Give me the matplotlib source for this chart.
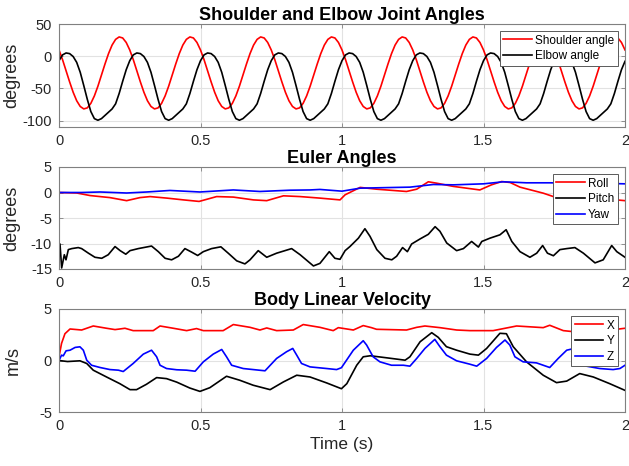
import numpy as np
import matplotlib
matplotlib.use("Agg")
import matplotlib.pyplot as plt

plt.rcParams['font.family'] = ['Liberation Sans', 'DejaVu Sans']
plt.rcParams['axes.unicode_minus'] = False

# ---------------- Top panel: joint angles (sampled every 0.0125 s) ----------------
t_joint = np.linspace(0, 2, 161)
shoulder_angle = [
    9.7, -5.4, -22.5, -39.9, -56.0, -69.2, -78.1, -81.9, -80.3, -73.3, -61.7, -46.6, -29.5, -12.1, 4.0, 17.2, 26.1, 29.9, 28.3, 21.3,
    9.7, -5.4, -22.5, -39.9, -56.0, -69.2, -78.1, -81.9, -80.3, -73.3, -61.7, -46.6, -29.5, -12.1, 4.0, 17.2, 26.1, 29.9, 28.3, 21.3,
    9.7, -5.4, -22.5, -39.9, -56.0, -69.2, -78.1, -81.9, -80.3, -73.3, -61.7, -46.6, -29.5, -12.1, 4.0, 17.2, 26.1, 29.9, 28.3, 21.3,
    9.7, -5.4, -22.5, -39.9, -56.0, -69.2, -78.1, -81.9, -80.3, -73.3, -61.7, -46.6, -29.5, -12.1, 4.0, 17.2, 26.1, 29.9, 28.3, 21.3,
    9.7, -5.4, -22.5, -39.9, -56.0, -69.2, -78.1, -81.9, -80.3, -73.3, -61.7, -46.6, -29.5, -12.1, 4.0, 17.2, 26.1, 29.9, 28.3, 21.3,
    9.7, -5.4, -22.5, -39.9, -56.0, -69.2, -78.1, -81.9, -80.3, -73.3, -61.7, -46.6, -29.5, -12.1, 4.0, 17.2, 26.1, 29.9, 28.3, 21.3,
    9.7, -5.4, -22.5, -39.9, -56.0, -69.2, -78.1, -81.9, -80.3, -73.3, -61.7, -46.6, -29.5, -12.1, 4.0, 17.2, 26.1, 29.9, 28.3, 21.3,
    9.7, -5.4, -22.5, -39.9, -56.0, -69.2, -78.1, -81.9, -80.3, -73.3, -61.7, -46.6, -29.5, -12.1, 4.0, 17.2, 26.1, 29.9, 28.3, 21.3,
    9.7]
elbow_angle = [
    -7, 2, 5, 4, -0.5, -9.6, -25, -45.6, -67, -86, -97, -99.5, -97, -92, -87, -82, -74, -58, -39, -21,
    -7, 2, 5, 4, -0.5, -9.6, -25, -45.6, -67, -86, -97, -99.5, -97, -92, -87, -82, -74, -58, -39, -21,
    -7, 2, 5, 4, -0.5, -9.6, -25, -45.6, -67, -86, -97, -99.5, -97, -92, -87, -82, -74, -58, -39, -21,
    -7, 2, 5, 4, -0.5, -9.6, -25, -45.6, -67, -86, -97, -99.5, -97, -92, -87, -82, -74, -58, -39, -21,
    -7, 2, 5, 4, -0.5, -9.6, -25, -45.6, -67, -86, -97, -99.5, -97, -92, -87, -82, -74, -58, -39, -21,
    -7, 2, 5, 4, -0.5, -9.6, -25, -45.6, -67, -86, -97, -99.5, -97, -92, -87, -82, -74, -58, -39, -21,
    -7, 2, 5, 4, -0.5, -9.6, -25, -45.6, -67, -86, -97, -99.5, -97, -92, -87, -82, -74, -58, -39, -21,
    -7, 2, 5, 4, -0.5, -9.6, -25, -45.6, -67, -86, -97, -99.5, -97, -92, -87, -82, -74, -58, -39, -21,
    -8]

# ---------------- Middle panel: Euler angles ----------------
t_roll = [0.0, 0.063, 0.11, 0.18, 0.239, 0.286, 0.322, 0.381, 0.44, 0.495, 0.557, 0.616, 0.687, 0.734,
          0.793, 0.852, 0.922, 0.993, 1.011, 1.064, 1.122, 1.228, 1.264, 1.305, 1.334, 1.393, 1.487,
          1.528, 1.564, 1.594, 1.629, 1.711, 1.747, 1.80, 1.88, 1.97, 2.0]
roll = [0.0, -0.1, -0.6, -1.0, -1.6, -1.0, -0.8, -1.1, -1.45, -1.75, -0.8, -0.9, -1.45, -1.6,
        -0.65, -0.8, -1.1, -1.45, -0.45, 1.0, 0.65, 0.2, 0.65, 2.1, 1.83, 1.2, 0.5,
        1.5, 2.15, 1.96, 1.05, -0.13, -0.8, -1.1, -1.3, -1.45, -1.6]

t_pitch = [0.0, 0.0035, 0.0094, 0.0188, 0.0247, 0.033, 0.045, 0.068, 0.08, 0.104, 0.127, 0.151, 0.174,
           0.198, 0.216, 0.236, 0.251, 0.280, 0.327, 0.351, 0.375, 0.398, 0.422, 0.445, 0.469, 0.490,
           0.510, 0.539, 0.572, 0.598, 0.628, 0.657, 0.675, 0.704, 0.734, 0.769, 0.822, 0.852, 0.899,
           0.922, 0.955, 0.975, 0.993, 1.011, 1.028, 1.058, 1.081, 1.099, 1.123, 1.152, 1.176, 1.193,
           1.214, 1.231, 1.246, 1.276, 1.305, 1.329, 1.346, 1.370, 1.405, 1.429, 1.458, 1.482, 1.494,
           1.523, 1.558, 1.580, 1.60, 1.629, 1.664, 1.688, 1.709, 1.726, 1.747, 1.770, 1.794, 1.823,
           1.853, 1.894, 1.923, 1.953, 1.971, 2.0]
pitch = [-10.0, -10.1, -14.8, -12.2, -13.2, -11.2, -11.0, -10.8, -11.0, -11.9, -12.7, -12.9, -12.2,
         -10.6, -11.4, -12.1, -11.4, -11.0, -10.5, -11.6, -12.9, -13.2, -12.5, -11.0, -11.7, -12.35,
         -11.6, -11.0, -10.65, -11.9, -13.4, -14.0, -13.2, -11.4, -12.7, -11.9, -11.0, -12.2, -14.4,
         -13.9, -11.6, -12.9, -13.1, -11.4, -10.6, -8.95, -7.1, -8.6, -11.2, -12.9, -13.2, -12.5,
         -10.8, -11.6, -10.1, -9.1, -8.2, -6.7, -7.6, -9.9, -11.4, -11.0, -9.6, -10.7, -9.6,
         -8.95, -8.3, -7.3, -9.6, -11.6, -12.7, -11.9, -10.4, -11.9, -12.4, -11.2, -11.0, -10.8,
         -11.9, -13.8, -13.2, -10.4, -11.6, -12.7]

t_yaw = [0.0, 0.08, 0.145, 0.239, 0.31, 0.392, 0.498, 0.616, 0.71, 0.816, 0.887, 0.922, 1.0, 1.064,
         1.15, 1.24, 1.323, 1.394, 1.5, 1.57, 1.652, 1.735, 1.83, 1.92, 2.0]
yaw = [0.0, 0.0, 0.1, -0.1, 0.1, 0.4, 0.1, 0.5, 0.2, 0.45, 0.5, 0.6, 0.26, 0.85,
       0.95, 1.05, 1.57, 1.5, 1.7, 2.1, 1.9, 1.9, 1.8, 1.8, 1.7]

# ---------------- Bottom panel: body linear velocity ----------------
t_vx = [0.0, 0.009, 0.021, 0.039, 0.08, 0.121, 0.168, 0.198, 0.215, 0.233, 0.262, 0.333, 0.357, 0.404,
        0.451, 0.486, 0.51, 0.58, 0.616, 0.675, 0.71, 0.734, 0.769, 0.828, 0.863, 0.922, 0.969, 0.987,
        1.04, 1.075, 1.104, 1.122, 1.228, 1.264, 1.293, 1.346, 1.405, 1.452, 1.534, 1.593, 1.617,
        1.711, 1.734, 1.782, 1.817, 1.9, 1.97, 2.0]
vx = [0.36, 1.66, 2.6, 3.06, 2.96, 3.35, 3.13, 3.0, 3.06, 3.13, 2.9, 2.9, 3.35, 3.13,
      2.9, 3.1, 2.9, 2.9, 3.49, 3.22, 2.96, 3.16, 2.9, 2.96, 3.49, 3.22, 2.9, 3.19,
      2.96, 3.39, 3.19, 3.03, 2.96, 3.22, 3.35, 3.19, 2.96, 2.9, 2.9, 3.22, 3.35,
      3.19, 3.42, 2.9, 2.8, 2.85, 3.03, 3.13]

t_vy = [0.0, 0.03, 0.074, 0.098, 0.121, 0.168, 0.215, 0.251, 0.274, 0.309, 0.345, 0.38, 0.416, 0.462,
        0.498, 0.533, 0.592, 0.639, 0.686, 0.746, 0.793, 0.84, 0.887, 0.946, 0.998, 1.017, 1.052,
        1.075, 1.1, 1.158, 1.223, 1.24, 1.276, 1.317, 1.340, 1.369, 1.405, 1.452, 1.482, 1.511,
        1.558, 1.581, 1.605, 1.652, 1.711, 1.758, 1.794, 1.840, 1.888, 1.946, 2.0]
vy = [0.0, -0.1, -0.03, -0.29, -0.94, -1.6, -2.25, -2.83, -2.83, -2.31, -1.66, -1.76, -2.1, -2.67,
      -3.0, -2.64, -1.53, -1.92, -2.4, -2.83, -2.08, -1.43, -1.6, -2.18, -2.74, -2.25, -0.46,
      0.36, 0.46, 0.26, 0.03, 0.36, 1.82, 2.7, 2.25, 1.34, 1.0, 0.62, 0.52, 1.17,
      2.64, 2.6, 1.34, -0.13, -1.43, -2.15, -2.0, -1.27, -1.6, -2.25, -2.9]

t_vz = [0.0, 0.009, 0.015, 0.025, 0.039, 0.057, 0.074, 0.086, 0.098, 0.115, 0.145, 0.18, 0.21, 0.227,
        0.262, 0.298, 0.327, 0.345, 0.357, 0.38, 0.416, 0.451, 0.481, 0.51, 0.545, 0.575, 0.592,
        0.61, 0.651, 0.686, 0.728, 0.769, 0.804, 0.826, 0.84, 0.857, 0.887, 0.946, 0.981, 0.998,
        1.04, 1.075, 1.087, 1.11, 1.134, 1.175, 1.217, 1.24, 1.264, 1.293, 1.328, 1.346, 1.369,
        1.405, 1.452, 1.476, 1.511, 1.546, 1.576, 1.593, 1.611, 1.64, 1.687, 1.734, 1.764, 1.794,
        1.825, 1.845, 1.864, 1.911, 1.958, 1.982, 2.0]
vz = [0.0, 0.52, 0.45, 0.94, 1.0, 1.27, 1.33, 1.0, 0.03, -0.46, -0.68, -0.88, -0.94, -1.07,
      -0.29, 0.62, 1.0, 0.36, -0.46, -0.78, -0.9, -0.94, -1.04, -0.13, 0.62, 1.07, 0.36,
      -0.46, -0.78, -0.88, -1.0, 0.2, 0.85, 1.17, 0.52, -0.29, -0.62, -0.78, -0.88, -0.7,
      1.0, 1.92, 1.5, 0.36, -0.13, -0.46, -0.46, -0.55, 0.2, 1.17, 2.05, 1.34, 0.52,
      -0.03, -0.36, -0.55, 0.2, 1.27, 1.99, 1.5, 0.36, -0.13, -0.23, -0.68, 0.2, 1.0,
      1.2, 0.3, -0.55, -0.78, -0.88, -0.78, -0.46]

x_ticks = [0, 0.5, 1, 1.5, 2]
x_ticklabels = ['0', '0.5', '1', '1.5', '2']

# ---------------- Figure ----------------
W, H = 629, 466
fig = plt.figure(figsize=(W / 100, H / 100), dpi=100)

def rect(x0, y0, x1, y1):
    return [x0 / W, 1 - y1 / H, (x1 - x0) / W, (y1 - y0) / H]

spine_c = '#808080'
text_c = '#262626'
lw = 1.2

def style(ax, ylim, yticks, title, ylabel, label_x):
    ax.set_xlim(0, 2)
    ax.set_ylim(*ylim)
    ax.set_xticks(x_ticks)
    ax.set_xticklabels(x_ticklabels)
    ax.set_yticks(yticks)
    ax.set_yticklabels([str(v) for v in yticks])
    ax.grid(True, color='#e2e2e2', linewidth=0.8)
    ax.set_axisbelow(True)
    for s in ax.spines.values():
        s.set_color(spine_c)
        s.set_linewidth(0.8)
    ax.tick_params(direction='in', length=3, width=0.6, color=spine_c, labelcolor=text_c,
                   labelsize=10.5, top=True, right=True, pad=5)
    ax.set_title(title, fontsize=13, fontweight='bold', pad=3)
    ax.set_ylabel(ylabel, fontsize=13, color=text_c)
    ax.yaxis.set_label_coords(label_x, 0.5)

def add_legend(ax):
    leg = ax.legend(loc='upper right', fontsize=8.5, frameon=True, fancybox=False,
                    framealpha=1, edgecolor='#5a5a5a', borderpad=0.3, labelspacing=0.3,
                    handlelength=2.4, handletextpad=0.3, borderaxespad=0.6)
    leg.get_frame().set_linewidth(0.7)

ax1 = fig.add_axes(rect(59, 24, 625, 127))
ax1.plot(t_joint, shoulder_angle, color='r', lw=lw, label='Shoulder angle', solid_joinstyle='round')
ax1.plot(t_joint, elbow_angle, color='k', lw=lw, label='Elbow angle', solid_joinstyle='round')
style(ax1, (-110, 50), [-100, -50, 0, 50], 'Shoulder and Elbow Joint Angles', 'degrees', -0.068)
add_legend(ax1)

ax2 = fig.add_axes(rect(59, 167, 625, 269))
ax2.plot(t_roll, roll, color='r', lw=lw, label='Roll', solid_joinstyle='round')
ax2.plot(t_pitch, pitch, color='k', lw=lw, label='Pitch', solid_joinstyle='round')
ax2.plot(t_yaw, yaw, color='b', lw=lw, label='Yaw', solid_joinstyle='round')
style(ax2, (-15, 5), [-15, -10, -5, 0, 5], 'Euler Angles', 'degrees', -0.068)
add_legend(ax2)

ax3 = fig.add_axes(rect(59, 309, 625, 412))
ax3.plot(t_vx, vx, color='r', lw=lw, label='X', solid_joinstyle='round')
ax3.plot(t_vy, vy, color='k', lw=lw, label='Y', solid_joinstyle='round')
ax3.plot(t_vz, vz, color='b', lw=lw, label='Z', solid_joinstyle='round')
style(ax3, (-5, 5), [-5, 0, 5], 'Body Linear Velocity', 'm/s', -0.066)
ax3.set_xlabel('Time (s)', fontsize=12.5, color=text_c, labelpad=3)
add_legend(ax3)

fig.savefig('out.png', dpi=100)
